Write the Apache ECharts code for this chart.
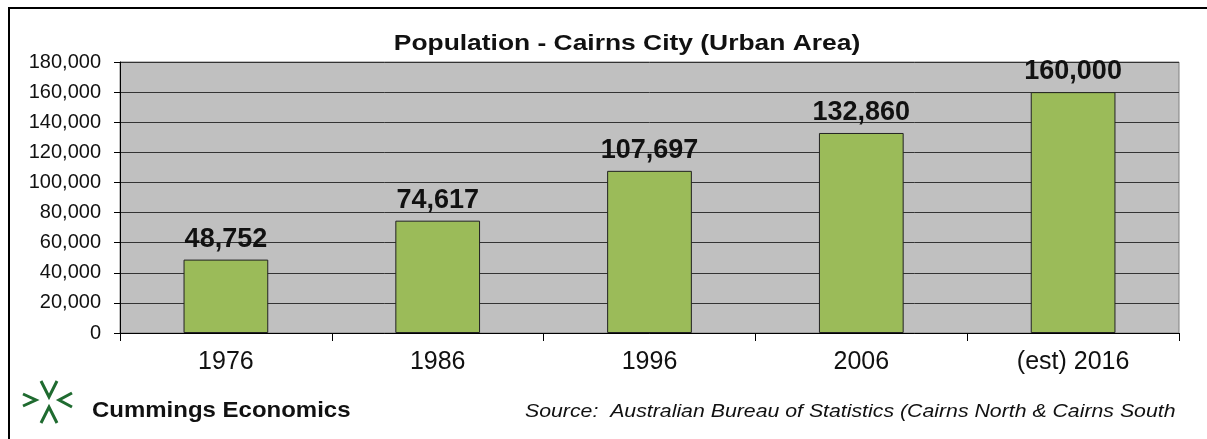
<!DOCTYPE html>
<html>
<head>
<meta charset="utf-8">
<script src="https://cdn.jsdelivr.net/npm/echarts@6/dist/echarts.min.js"></script>
<style>
html,body{margin:0;padding:0;background:#fff;}
#main{width:1207px;height:439px;}
</style>
</head>
<body>
<div id="main"></div>
<script>
var years = ['1976', '1986', '1996', '2006', '(est) 2016'];
var population = [48752, 74617, 107697, 132860, 160000];

var chart = echarts.init(document.getElementById('main'));

var green = '#1f6b30';
function chevron(points) {
    return {
        type: 'polyline',
        shape: {points: points},
        style: {stroke: green, lineWidth: 3, fill: 'none'},
        silent: true
    };
}

var option = {
    animation: false,
    backgroundColor: '#fff',
    grid: {
        left: 120,
        right: 28,
        top: 62,
        bottom: 106,
        show: true,
        backgroundColor: '#c0c0c0',
        borderColor: '#808080',
        borderWidth: 1
    },
    xAxis: {
        type: 'category',
        data: years,
        axisLine: {lineStyle: {color: '#000', width: 1}},
        axisTick: {show: true, length: 8, lineStyle: {color: '#000'}},
        axisLabel: {
            fontFamily: 'Liberation Sans',
            fontSize: 25,
            color: '#111',
            margin: 17
        }
    },
    yAxis: {
        type: 'value',
        min: 0,
        max: 180000,
        interval: 20000,
        axisLine: {show: true, lineStyle: {color: '#000', width: 1}},
        axisTick: {show: true, length: 6, lineStyle: {color: '#000'}},
        splitLine: {show: true, lineStyle: {color: '#333', width: 1}},
        axisLabel: {
            fontFamily: 'Liberation Sans',
            fontSize: 20,
            color: '#111',
            margin: 19,
            formatter: function (v) {
                return v.toLocaleString('en-US');
            }
        }
    },
    series: [
        {
            type: 'bar',
            data: population,
            barWidth: '40%',
            itemStyle: {
                color: '#9bbb59',
                borderColor: '#222',
                borderWidth: 1
            },
            label: {
                show: true,
                position: 'top',
                distance: 7,
                fontFamily: 'Liberation Sans',
                fontSize: 27,
                fontWeight: 'bold',
                color: '#111',
                formatter: function (p) {
                    return p.value.toLocaleString('en-US');
                }
            }
        }
    ],
    graphic: [
        {
            type: 'rect',
            shape: {x: 9, y: 8, width: 1250, height: 480},
            style: {fill: 'none', stroke: '#000', lineWidth: 2},
            silent: true
        },
        {
            type: 'text', x: 627, y: 44, scaleX: 1.2,
            style: {
                text: 'Population - Cairns City (Urban Area)',
                font: 'bold 22px Liberation Sans', fill: '#111',
                textAlign: 'center', textVerticalAlign: 'middle'
            }
        },
        chevron([[23, 394], [36, 400], [23, 406]]),
        chevron([[72, 393], [59, 400], [72, 407]]),
        chevron([[41, 381], [49, 397], [57, 381]]),
        chevron([[41, 423], [49, 407], [57, 423]]),
        {
            type: 'text', x: 92, y: 400, scaleX: 1.09,
            style: {
                text: 'Cummings Economics', font: 'bold 22px Liberation Sans',
                fill: '#111', textVerticalAlign: 'top'
            }
        },
        {
            type: 'text', x: 525, y: 402, scaleX: 1.12,
            style: {
                text: 'Source:  Australian Bureau of Statistics (Cairns North & Cairns South',
                font: 'italic 19px Liberation Sans', fill: '#111', textVerticalAlign: 'top'
            }
        }
    ]
};

chart.setOption(option);
</script>
</body>
</html>
